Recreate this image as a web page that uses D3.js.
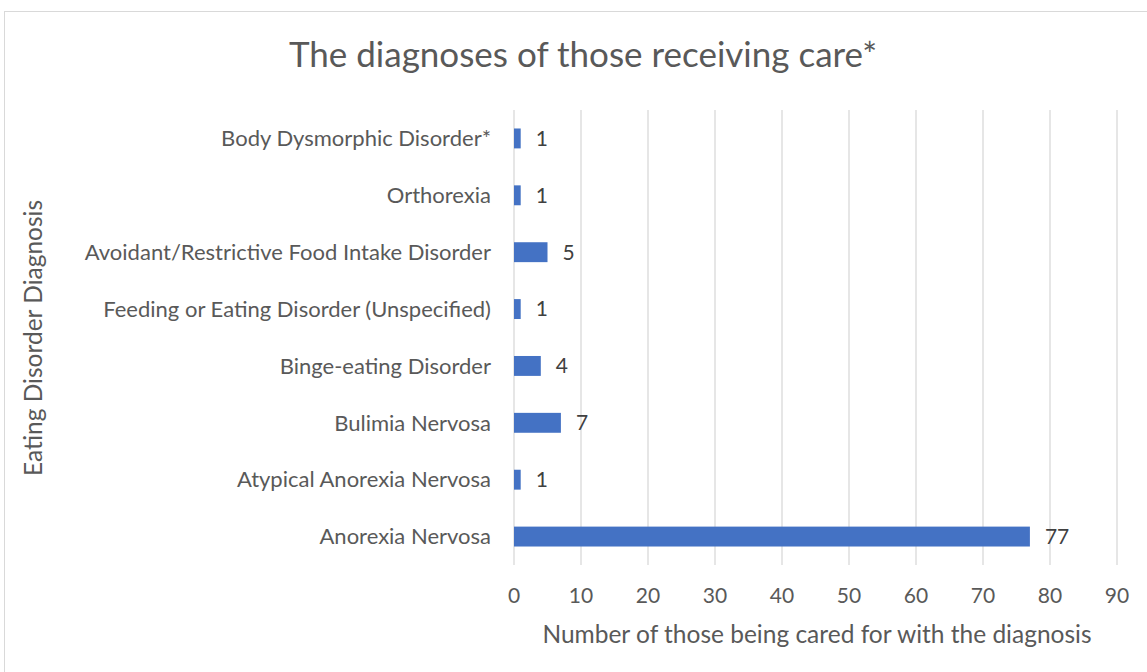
<!DOCTYPE html>
<html>
<head>
<meta charset="utf-8">
<script src="https://cdn.jsdelivr.net/npm/d3@7"></script>
<style>
  body { margin: 0; background: #fff; }
  text { font-family: Lato, "Open Sans", sans-serif; }
</style>
</head>
<body>
<svg id="chart" width="1147" height="672"></svg>
<script>
const categories = [
  "Body Dysmorphic Disorder*",
  "Orthorexia",
  "Avoidant/Restrictive Food Intake Disorder",
  "Feeding or Eating Disorder (Unspecified)",
  "Binge-eating Disorder",
  "Bulimia Nervosa",
  "Atypical Anorexia Nervosa",
  "Anorexia Nervosa"
];
const counts = [1, 1, 5, 1, 4, 7, 1, 77];
const xTicks = [0, 10, 20, 30, 40, 50, 60, 70, 80, 90];

const svg = d3.select("#chart");
const textColor = "#595959";

// chart frame (runs off the right and bottom edges)
svg.append("rect")
  .attr("x", 4.5).attr("y", 11.5)
  .attr("width", 1300).attr("height", 800)
  .attr("fill", "none")
  .attr("stroke", "#d9d9d9");

const plot = { left: 514, right: 1117, top: 110, bottom: 565 };

const x = d3.scaleLinear().domain([0, 90]).range([plot.left, plot.right]);
const y = d3.scaleBand().domain(categories).range([plot.top, plot.bottom]).paddingInner(0.65).paddingOuter(0.325);

// gridlines
svg.append("g")
  .selectAll("line")
  .data(xTicks)
  .join("line")
  .attr("x1", d => x(d)).attr("x2", d => x(d))
  .attr("y1", plot.top).attr("y2", plot.bottom)
  .attr("stroke", "#d9d9d9")
  .attr("stroke-width", 1.3);

// x tick labels
svg.append("g")
  .selectAll("text")
  .data(xTicks)
  .join("text")
  .attr("x", d => x(d))
  .attr("y", 603)
  .attr("text-anchor", "middle")
  .attr("fill", textColor)
  .style("font-size", "21px")
  .text(d => d);

// category labels
svg.append("g")
  .selectAll("text")
  .data(categories)
  .join("text")
  .attr("x", 491)
  .attr("y", d => y(d) + y.bandwidth() / 2)
  .attr("dy", "0.35em")
  .attr("text-anchor", "end")
  .attr("fill", textColor)
  .style("font-size", "22px")
  .text(d => d);

// bars
svg.append("g")
  .selectAll("rect")
  .data(counts)
  .join("rect")
  .attr("x", x(0))
  .attr("y", (d, i) => y(categories[i]))
  .attr("width", d => x(d) - x(0))
  .attr("height", y.bandwidth())
  .attr("fill", "#4472c4");

// value labels
svg.append("g")
  .selectAll("text")
  .data(counts)
  .join("text")
  .attr("x", d => x(d) + 15)
  .attr("y", (d, i) => y(categories[i]) + y.bandwidth() / 2)
  .attr("dy", "0.35em")
  .attr("fill", "#404040")
  .style("font-size", "21px")
  .text(d => d);

// title
svg.append("text")
  .attr("x", 583).attr("y", 67)
  .attr("text-anchor", "middle")
  .attr("fill", textColor)
  .style("font-size", "35px")
  .text("The diagnoses of those receiving care*");

// axis titles
svg.append("text")
  .attr("x", 817).attr("y", 643)
  .attr("text-anchor", "middle")
  .attr("fill", textColor)
  .style("font-size", "24.5px")
  .text("Number of those being cared for with the diagnosis");

svg.append("text")
  .attr("transform", "translate(42,338) rotate(-90)")
  .attr("text-anchor", "middle")
  .attr("fill", textColor)
  .style("font-size", "24.5px")
  .text("Eating Disorder Diagnosis");
</script>
</body>
</html>
